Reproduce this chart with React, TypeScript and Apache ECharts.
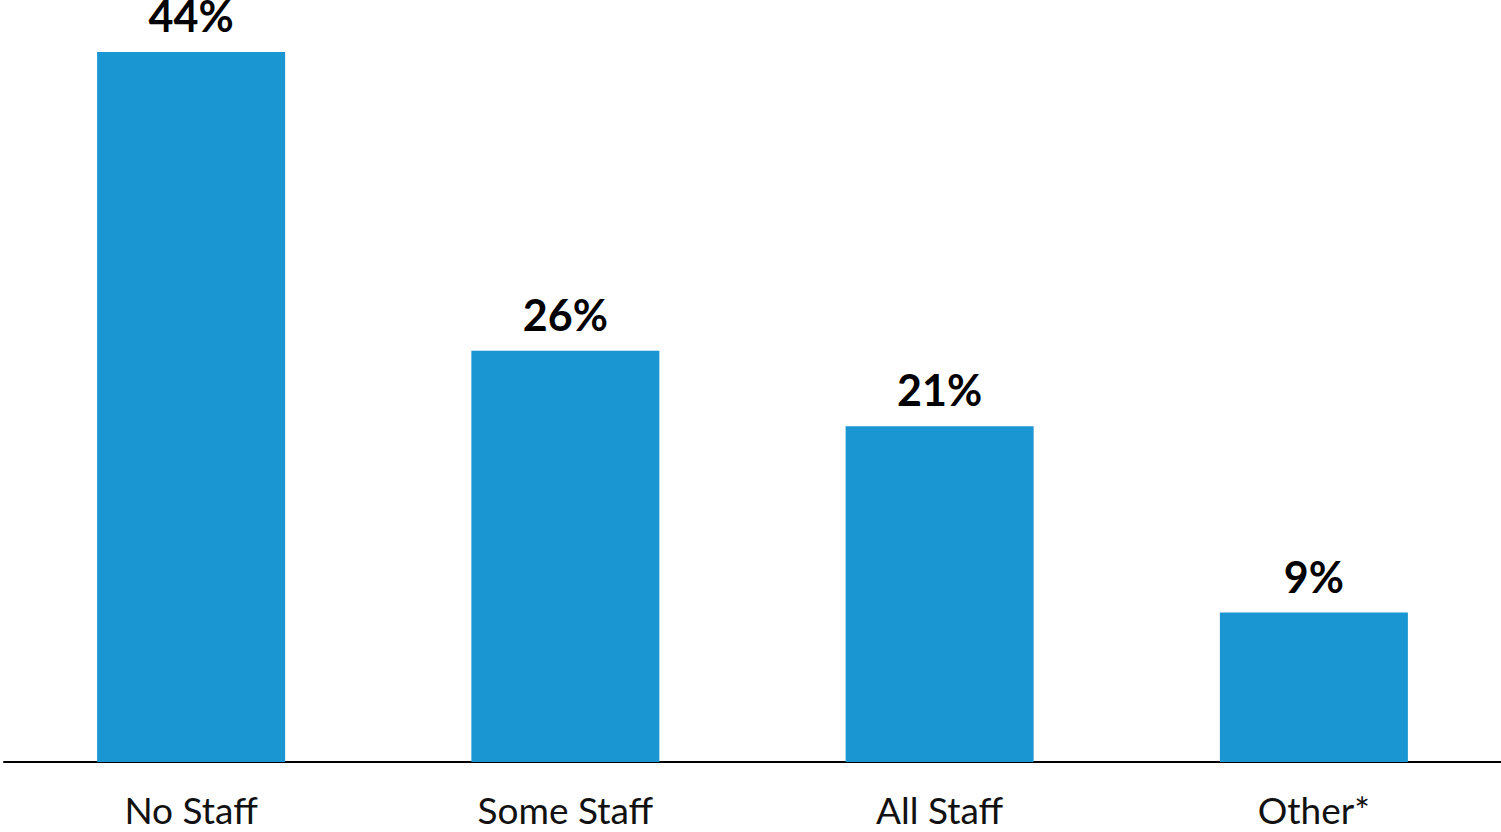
import React, { useEffect, useRef } from "react";
import * as echarts from "echarts";

const categories = ["No Staff", "Some Staff", "All Staff", "Other*"];
const values = [44.2, 25.6, 20.9, 9.3];

export default function App() {
  const ref = useRef<HTMLDivElement>(null);
  useEffect(() => {
    document.body.style.margin = "0";
    const chart = echarts.init(ref.current!, null, { renderer: "svg" });
    chart.setOption({
      animation: false,
      grid: { left: 4, right: -1, top: 52, bottom: 70 },
      xAxis: {
        type: "category",
        data: categories,
        axisLine: { lineStyle: { color: "#000", width: 2 } },
        axisTick: { show: false },
        axisLabel: {
          color: "#111",
          fontFamily: "Lato",
          fontSize: 37,
          margin: 29,
        },
      },
      yAxis: {
        type: "value",
        min: 0,
        max: "dataMax",
        show: false,
        splitLine: { show: false },
      },
      series: [
        {
          type: "bar",
          data: values,
          barWidth: 188,
          itemStyle: { color: "#1a96d2" },
          label: {
            show: true,
            position: "top",
            distance: 15,
            color: "#000",
            fontFamily: "Lato",
            fontWeight: "bold",
            fontSize: 43,
            formatter: (p: any) => Math.round(p.value) + "%",
          },
        },
      ],
    });
    return () => chart.dispose();
  }, []);
  return <div ref={ref} style={{ width: 1501, height: 832 }} />;
}
